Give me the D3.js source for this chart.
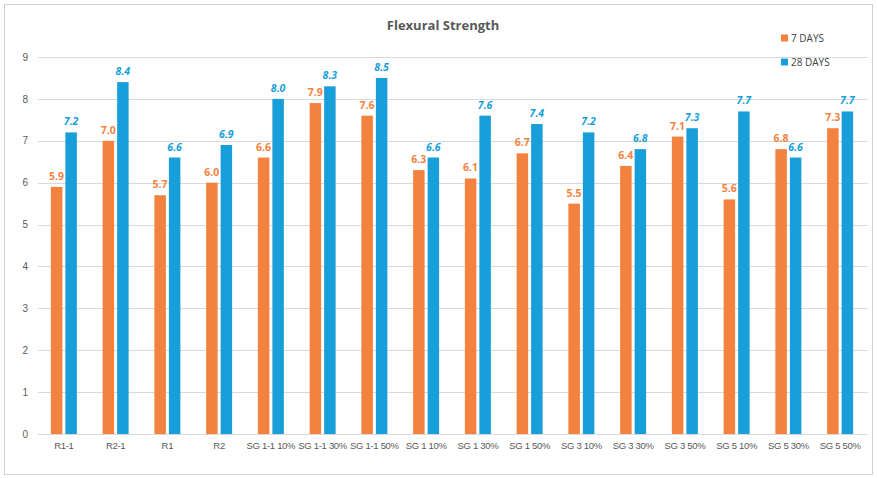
<!DOCTYPE html>
<html>
<head>
<meta charset="utf-8">
<script src="https://cdn.jsdelivr.net/npm/d3@7"></script>
<style>
  body { margin: 0; background: #fff; }
  svg { display: block; font-family: "Open Sans", "Noto Sans", sans-serif; }
</style>
</head>
<body>
<svg id="chart" width="877" height="478"></svg>
<script>
const categories = ["R1-1", "R2-1", "R1", "R2", "SG 1-1 10%", "SG 1-1 30%", "SG 1-1 50%",
  "SG 1 10%", "SG 1 30%", "SG 1 50%", "SG 3 10%", "SG 3 30%", "SG 3 50%",
  "SG 5 10%", "SG 5 30%", "SG 5 50%"];
const days7 = [5.9, 7.0, 5.7, 6.0, 6.6, 7.9, 7.6, 6.3, 6.1, 6.7, 5.5, 6.4, 7.1, 5.6, 6.8, 7.3];
const days28 = [7.2, 8.4, 6.6, 6.9, 8.0, 8.3, 8.5, 6.6, 7.6, 7.4, 7.2, 6.8, 7.3, 7.7, 6.6, 7.7];
const seriesNames = ["7 DAYS", "28 DAYS"];
const yTicks = [0, 1, 2, 3, 4, 5, 6, 7, 8, 9];
const colors = ["#F4823F", "#189FDA"];

const svg = d3.select("#chart");
const W = 877, H = 478;
const margin = { left: 38, right: 11, top: 57, bottom: 44 };

// outer frame
svg.append("rect").attr("x", 4.5).attr("y", 4.5).attr("width", W - 9).attr("height", H - 8)
  .attr("fill", "#fff").attr("stroke", "#d0d0d0");

const x = d3.scaleBand().domain(categories).range([margin.left, W - margin.right]).paddingInner(0).paddingOuter(0);
const y = d3.scaleLinear().domain([0, 9]).range([H - margin.bottom, margin.top]);

// gridlines
svg.append("g").selectAll("line").data(yTicks.filter(d => d > 0)).join("line")
  .attr("x1", margin.left).attr("x2", W - margin.right + 2)
  .attr("y1", d => Math.round(y(d)) + 0.5).attr("y2", d => Math.round(y(d)) + 0.5)
  .attr("stroke", "#d9d9d9").attr("stroke-width", 1);

// y axis
const yAxis = svg.append("g").attr("transform", `translate(${margin.left},0)`)
  .call(d3.axisLeft(y).tickValues(yTicks).tickSize(0).tickPadding(10).tickFormat(d3.format("d")));
yAxis.select(".domain").remove();
yAxis.selectAll("text").attr("fill", "#595959").attr("font-size", 10);

// x axis
const xAxis = svg.append("g").attr("transform", `translate(0,${Math.round(y(0)) + 0.5})`)
  .call(d3.axisBottom(x).tickSize(0).tickPadding(8));
xAxis.select(".domain").attr("stroke", "#d9d9d9").attr("d", `M${margin.left},0H${W - margin.right + 2}`);
xAxis.selectAll("text").attr("fill", "#595959").attr("font-size", 9.5).attr("letter-spacing", -0.3);

const barW = 11.5, gap = 3;
const series = [days7, days28];
series.forEach((vals, s) => {
  const offset = s === 0 ? -(gap / 2 + barW) : gap / 2;
  const g = svg.append("g");
  g.selectAll("rect").data(vals).join("rect")
    .attr("x", (d, i) => x(categories[i]) + x.bandwidth() / 2 + offset)
    .attr("y", d => y(d))
    .attr("width", barW)
    .attr("height", d => y(0) - y(d))
    .attr("fill", colors[s]);
  g.selectAll("text").data(vals).join("text")
    .attr("x", (d, i) => x(categories[i]) + x.bandwidth() / 2 + offset + barW / 2)
    .attr("y", d => y(d) - 7)
    .attr("text-anchor", "middle")
    .attr("font-size", 10.5)
    .attr("font-weight", "bold")
    .attr("font-style", s === 1 ? "italic" : "normal")
    .attr("fill", colors[s])
    .text(d => d.toFixed(1));
});

// title
svg.append("text").attr("x", 443).attr("y", 30).attr("text-anchor", "middle")
  .attr("font-size", 13).attr("font-weight", "bold").attr("fill", "#595959")
  .text("Flexural Strength");

// legend
const legend = svg.append("g");
seriesNames.forEach((name, i) => {
  const ly = 38 + i * 24;
  legend.append("rect").attr("x", 781).attr("y", ly - 3.5).attr("width", 7).attr("height", 7).attr("fill", colors[i]);
  legend.append("text").attr("x", 791).attr("y", ly + 3.5).attr("font-size", 10)
    .attr("fill", "#404040").text(name);
});
</script>
</body>
</html>
